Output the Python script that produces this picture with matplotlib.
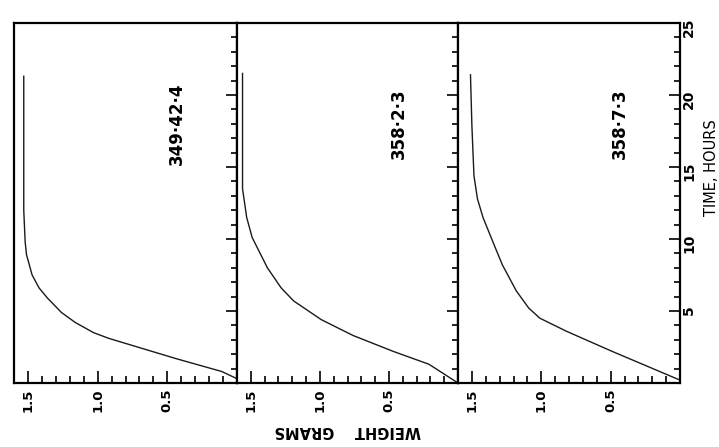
import matplotlib
matplotlib.use("Agg")
import matplotlib.pyplot as plt
from matplotlib.ticker import FixedLocator, MultipleLocator

# -------------------- Data --------------------
samples = ["349\u00b742\u00b74", "358\u00b72\u00b73", "358\u00b77\u00b73"]

# time (hours) / weight (grams)
time_349_42_4 = [0.3, 0.8, 1.7, 2.4, 3.1, 3.5, 4.2, 4.9, 5.9, 6.6, 7.5, 8.9, 9.8, 12, 15, 18, 21.3]
weight_349_42_4 = [0, 0.11, 0.44, 0.68, 0.92, 1.03, 1.16, 1.26, 1.36, 1.42, 1.47, 1.51, 1.52, 1.53, 1.53, 1.53, 1.53]

time_358_2_3 = [0, 1.3, 2.2, 3.3, 4.4, 5.7, 6.6, 8.0, 10.1, 11.5, 13.5, 17, 21.5]
weight_358_2_3 = [0, 0.21, 0.47, 0.76, 0.99, 1.19, 1.28, 1.38, 1.49, 1.53, 1.56, 1.56, 1.56]

time_358_7_3 = [0.2, 2.2, 3.6, 4.5, 5.2, 6.4, 8.2, 9.6, 11.5, 12.8, 14.4, 17.9, 21.4]
weight_358_7_3 = [0, 0.49, 0.82, 1.01, 1.09, 1.18, 1.28, 1.34, 1.42, 1.46, 1.485, 1.50, 1.51]

times = [time_349_42_4, time_358_2_3, time_358_7_3]
weights = [weight_349_42_4, weight_358_2_3, weight_358_7_3]

weight_ticks = [0.5, 1.0, 1.5]
weight_labels = ["0.5", "1.0", "1.5"]
time_ticks = [5, 10, 15, 20, 25]

# -------------------- Layout --------------------
W, H = 719, 447
edges = [14, 237, 458, 680]
y_bot, y_top = 383, 23

fig = plt.figure(figsize=(W / 100, H / 100), dpi=100)

for i, name in enumerate(samples):
    x0, x1 = edges[i], edges[i + 1]
    ax = fig.add_axes([x0 / W, 1 - y_bot / H, (x1 - x0) / W, (y_bot - y_top) / H])

    ax.plot(weights[i], times[i], color="#1a1a1a", lw=1.0)

    ax.set_xlim(1.6, 0)
    ax.set_ylim(0, 25)

    for sp in ax.spines.values():
        sp.set_linewidth(1.6)
        sp.set_color("black")

    # weight axis along the bottom
    ax.xaxis.set_major_locator(FixedLocator(weight_ticks))
    ax.xaxis.set_minor_locator(MultipleLocator(0.1))
    ax.set_xticklabels(weight_labels, fontweight="bold")
    ax.tick_params(axis="x", which="both", direction="in", top=False,
                   labelrotation=90, labelsize=9.5, pad=4, width=1.2)
    ax.tick_params(axis="x", which="major", length=9)
    ax.tick_params(axis="x", which="minor", length=5)

    # time axis on the right edge
    ax.yaxis.set_major_locator(FixedLocator(time_ticks))
    ax.yaxis.set_minor_locator(MultipleLocator(1))
    ax.set_yticklabels([str(t) for t in time_ticks], fontweight="bold")
    ax.tick_params(axis="y", which="both", direction="in", left=False, right=True,
                   labelleft=False, labelright=(i == 2),
                   labelrotation=90, labelsize=10, pad=1.5, width=1.2)
    ax.tick_params(axis="y", which="major", length=8)
    ax.tick_params(axis="y", which="minor", length=4)

    ax.text(0.43, 18, name, rotation=90, ha="center", va="center",
            fontsize=12, fontweight="bold")

fig.text(348 / W, 1 - 430 / H, "WEIGHT    GRAMS", rotation=180,
         ha="center", va="center", fontsize=10.5, fontweight="bold")
fig.text(711 / W, 1 - 168 / H, "TIME, HOURS", rotation=90,
         ha="center", va="center", fontsize=10.5)

fig.savefig("out.png", dpi=100)
plt.close(fig)
